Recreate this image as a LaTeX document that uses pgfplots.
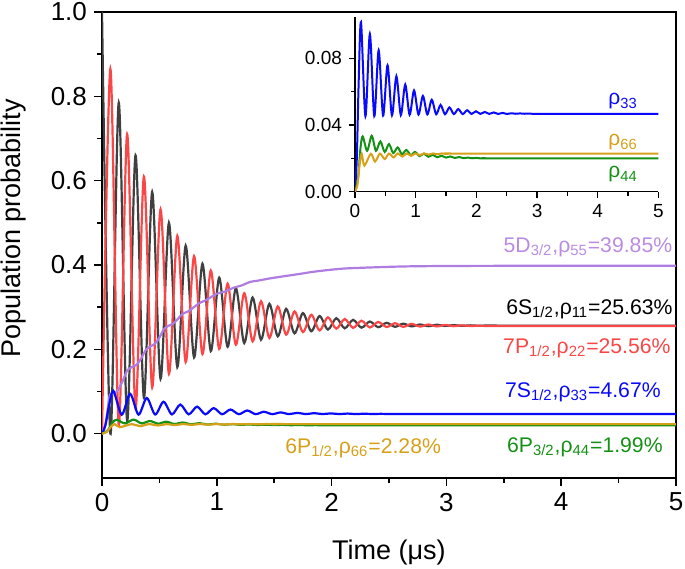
\documentclass[border=0pt]{standalone}
\usepackage{fontspec}
\setmainfont{Liberation Sans}
\usepackage{pgfplots}
\pgfplotsset{compat=1.18}
\usetikzlibrary{calc}

\definecolor{cblack}{RGB}{64,64,64}
\definecolor{cred}{RGB}{250,70,70}
\definecolor{cblue}{RGB}{10,10,250}
\definecolor{cgreen}{RGB}{20,145,20}
\definecolor{corange}{RGB}{215,160,25}
\definecolor{cpurple}{RGB}{175,125,225}
\definecolor{tpurple}{RGB}{185,140,225}

\newcommand{\annfont}{\fontsize{10.6}{13}\selectfont}

\begin{document}
\begin{tikzpicture}
% ---------------- main axis ----------------
\begin{axis}[
  name=main, at={(0,0)}, anchor=south west,
  scale only axis, width=287pt, height=233pt,
  xmin=0, xmax=5, ymin=-0.105, ymax=1.0,
  xtick={0,1,2,3,4,5}, ytick={0,0.2,0.4,0.6,0.8,1.0},
  minor x tick num=1, minor y tick num=1,
  tick align=outside, xtick pos=bottom, ytick pos=left,
  major tick length=4pt, minor tick length=2.5pt,
  every tick/.style={line width=0.75pt, black},
  axis line style={line width=0.75pt},
  yticklabel style={/pgf/number format/.cd, fixed, fixed zerofill, precision=1},
  /pgf/number format/assume math mode=true,
  tick label style={font=\fontsize{13}{15}\selectfont},
  label style={font=\fontsize{13.5}{16}\selectfont},
  xlabel={Time (μs)}, ylabel={Population probability},
  xlabel style={at={(axis description cs:0.5,-0.159)}, anchor=center},
  ylabel style={at={(axis description cs:-0.155,0.536)}, anchor=center},
]
% rho11, 6S1/2
\addplot[cblack, line width=1.1pt, smooth] coordinates {
(0.000,1.000) (0.073,0.000) (0.146,0.785) (0.219,0.030) (0.292,0.660) (0.365,0.085)
(0.437,0.573) (0.510,0.130) (0.583,0.500) (0.656,0.158) (0.729,0.446) (0.802,0.181)
(0.875,0.403) (0.948,0.196) (1.021,0.370) (1.094,0.206) (1.166,0.345) (1.239,0.215)
(1.312,0.323) (1.385,0.223) (1.458,0.308) (1.531,0.231) (1.604,0.296) (1.677,0.238)
(1.750,0.286) (1.823,0.243) (1.895,0.279) (1.968,0.247) (2.041,0.274) (2.114,0.250)
(2.187,0.270) (2.260,0.2515) (2.333,0.266) (2.406,0.2525) (2.479,0.263) (2.552,0.2535)
(2.624,0.261) (2.697,0.2545) (2.770,0.259) (2.843,0.255) (2.916,0.2585) (2.989,0.2555)
(3.062,0.2575) (3.135,0.2558) (3.208,0.257) (3.281,0.256) (3.354,0.2565) (3.600,0.2563)
(5.000,0.2563)};
% rho22, 7P1/2
\addplot[cred, line width=1.1pt, smooth] coordinates {
(0.000,0.000) (0.073,0.865) (0.146,0.020) (0.219,0.710) (0.292,0.060) (0.365,0.610)
(0.437,0.110) (0.510,0.532) (0.583,0.142) (0.656,0.469) (0.729,0.170) (0.802,0.421)
(0.875,0.189) (0.948,0.387) (1.021,0.201) (1.094,0.356) (1.166,0.211) (1.239,0.333)
(1.312,0.219) (1.385,0.314) (1.458,0.227) (1.531,0.302) (1.604,0.235) (1.677,0.290)
(1.750,0.241) (1.823,0.282) (1.895,0.245) (1.968,0.276) (2.041,0.249) (2.114,0.272)
(2.187,0.251) (2.260,0.268) (2.333,0.252) (2.406,0.265) (2.479,0.253) (2.552,0.262)
(2.624,0.2535) (2.697,0.2605) (2.770,0.254) (2.843,0.259) (2.916,0.2545) (2.989,0.258)
(3.062,0.255) (3.135,0.257) (3.208,0.2553) (3.281,0.2562) (3.354,0.2555) (3.600,0.2556)
(5.000,0.2556)};
% rho55, 5D3/2
\addplot[cpurple, line width=1.1pt, smooth] coordinates {
(0,0) (0.035,0.03) (0.065,0.088) (0.09,0.095) (0.13,0.10) (0.18,0.125) (0.22,0.15)
(0.26,0.158) (0.30,0.163) (0.34,0.178) (0.38,0.198) (0.42,0.207) (0.46,0.213)
(0.50,0.228) (0.54,0.248) (0.58,0.256) (0.62,0.261) (0.66,0.272) (0.70,0.284)
(0.75,0.290) (0.80,0.300) (0.85,0.310) (0.90,0.316) (0.95,0.324) (1.00,0.332)
(1.07,0.337) (1.145,0.346) (1.22,0.352) (1.29,0.360) (1.36,0.363) (1.435,0.367)
(1.55,0.372) (1.725,0.379) (1.84,0.384) (2.00,0.389) (2.13,0.392) (2.42,0.395)
(2.71,0.397) (3.29,0.398) (5.00,0.3985)};
% rho33, 7S1/2
\addplot[cblue, line width=1.1pt, smooth] coordinates {
(0,0) (0.03,0.02) (0.06,0.065) (0.099,0.1016) (0.172,0.0452) (0.245,0.0946)
(0.318,0.0453) (0.39,0.0848) (0.463,0.0456) (0.536,0.0758) (0.609,0.0458) (0.682,0.0692)
(0.755,0.046) (0.828,0.0642) (0.9,0.0461) (0.973,0.0607) (1.046,0.0462) (1.119,0.0574)
(1.192,0.0463) (1.265,0.0551) (1.338,0.0464) (1.41,0.052) (1.483,0.0464) (1.556,0.0505)
(1.629,0.0465) (1.702,0.0495) (1.775,0.0465) (1.848,0.0488) (1.92,0.0466) (1.993,0.0482)
(2.066,0.0466) (2.139,0.0478) (2.212,0.0466) (2.285,0.0475) (2.358,0.0466) (2.43,0.0472)
(2.503,0.0466) (2.576,0.047) (2.649,0.0467) (2.72,0.0469) (2.795,0.0467) (2.868,0.0468)
(3.0,0.0467) (5,0.0467)};
% rho44, 6P3/2
\addplot[cgreen, line width=1.1pt, smooth] coordinates {
(0,0) (0.05,0.008) (0.09,0.026) (0.127,0.0331) (0.2,0.0245) (0.275,0.0335) (0.345,0.0245)
(0.418,0.0301) (0.49,0.0238) (0.56,0.0285) (0.63,0.0231) (0.703,0.0265) (0.775,0.0224)
(0.846,0.025) (0.92,0.0218) (0.99,0.0238) (1.063,0.0213) (1.135,0.0228) (1.208,0.0209)
(1.28,0.0221) (1.353,0.0206) (1.425,0.0215) (1.5,0.0204) (1.57,0.0211) (1.643,0.0202)
(1.715,0.0207) (1.79,0.0201) (1.86,0.0204) (1.93,0.02) (2.0,0.0202) (2.08,0.0199)
(2.15,0.0201) (2.3,0.0199) (5,0.0199)};
% rho66, 6P1/2
\addplot[corange, line width=1.1pt, smooth] coordinates {
(0,0) (0.04,0.004) (0.075,0.016) (0.11,0.0227) (0.155,0.0156) (0.26,0.0227) (0.33,0.018)
(0.41,0.0228) (0.49,0.0195) (0.56,0.0228) (0.635,0.0205) (0.705,0.0229) (0.78,0.021)
(0.85,0.0229) (0.925,0.0215) (0.995,0.0229) (1.07,0.0219) (1.14,0.0229) (1.215,0.0222)
(1.285,0.0229) (1.36,0.0224) (1.43,0.0229) (1.505,0.0226) (1.58,0.0229) (1.7,0.0228)
(5,0.0228)};

\begin{scope}[every node/.style={inner sep=0pt, font=\annfont}]
\node[anchor=base east, text=tpurple] at (axis cs:4.97,0.430) {5D\textsubscript{3/2},ρ\textsubscript{55}=39.85\%};
\node[anchor=base east, text=black] at (axis cs:4.973,0.2823) {6S\textsubscript{1/2},ρ\textsubscript{11}=25.63\%};
\node[anchor=base east, text=cred] at (axis cs:4.956,0.190) {7P\textsubscript{1/2},ρ\textsubscript{22}=25.56\%};
\node[anchor=base east, text=cblue] at (axis cs:4.87,0.086) {7S\textsubscript{1/2},ρ\textsubscript{33}=4.67\%};
\node[anchor=base east, text=cgreen] at (axis cs:4.887,-0.0444) {6P\textsubscript{3/2},ρ\textsubscript{44}=1.99\%};
\node[anchor=base west, text=corange] at (axis cs:1.594,-0.0467) {6P\textsubscript{1/2},ρ\textsubscript{66}=2.28\%};
\end{scope}
\end{axis}

% ---------------- inset ----------------
\begin{axis}[
  name=inset, at={($(main.south west)+(126.5pt,143.2pt)$)}, anchor=south west,
  scale only axis, width=151.7pt, height=87.5pt,
  xmin=0, xmax=5, ymin=0, ymax=0.105,
  axis x line=bottom, axis y line=left,
  axis line style={-, line width=0.6pt},
  every outer x axis line/.append style={-},
  every outer y axis line/.append style={-},
  xtick={0,1,2,3,4,5}, ytick={0,0.04,0.08},
  minor x tick num=1, minor y tick num=1,
  tick align=outside,
  major tick length=3pt, minor tick length=2pt,
  every tick/.style={line width=0.6pt, black},
  scaled y ticks=false,
  yticklabel style={/pgf/number format/.cd, fixed, fixed zerofill, precision=2},
  /pgf/number format/assume math mode=true,
  tick label style={font=\fontsize{9.5}{11}\selectfont},
]
\addplot[cblue, line width=1pt, smooth] coordinates {
(0,0) (0.03,0.02) (0.06,0.065) (0.099,0.1016) (0.172,0.0452) (0.245,0.0946)
(0.318,0.0453) (0.39,0.0848) (0.463,0.0456) (0.536,0.0758) (0.609,0.0458) (0.682,0.0692)
(0.755,0.046) (0.828,0.0642) (0.9,0.0461) (0.973,0.0607) (1.046,0.0462) (1.119,0.0574)
(1.192,0.0463) (1.265,0.0551) (1.338,0.0464) (1.41,0.052) (1.483,0.0464) (1.556,0.0505)
(1.629,0.0465) (1.702,0.0495) (1.775,0.0465) (1.848,0.0488) (1.92,0.0466) (1.993,0.0482)
(2.066,0.0466) (2.139,0.0478) (2.212,0.0466) (2.285,0.0475) (2.358,0.0466) (2.43,0.0472)
(2.503,0.0466) (2.576,0.047) (2.649,0.0467) (2.72,0.0469) (2.795,0.0467) (2.868,0.0468)
(3.0,0.0467) (5,0.0467)};
\addplot[cgreen, line width=1pt, smooth] coordinates {
(0,0) (0.05,0.008) (0.09,0.026) (0.127,0.0331) (0.2,0.0245) (0.275,0.0335) (0.345,0.0245)
(0.418,0.0301) (0.49,0.0238) (0.56,0.0285) (0.63,0.0231) (0.703,0.0265) (0.775,0.0224)
(0.846,0.025) (0.92,0.0218) (0.99,0.0238) (1.063,0.0213) (1.135,0.0228) (1.208,0.0209)
(1.28,0.0221) (1.353,0.0206) (1.425,0.0215) (1.5,0.0204) (1.57,0.0211) (1.643,0.0202)
(1.715,0.0207) (1.79,0.0201) (1.86,0.0204) (1.93,0.02) (2.0,0.0202) (2.08,0.0199)
(2.15,0.0201) (2.3,0.0199) (5,0.0199)};
\addplot[corange, line width=1pt, smooth] coordinates {
(0,0) (0.04,0.004) (0.075,0.016) (0.11,0.0227) (0.155,0.0156) (0.26,0.0227) (0.33,0.018)
(0.41,0.0228) (0.49,0.0195) (0.56,0.0228) (0.635,0.0205) (0.705,0.0229) (0.78,0.021)
(0.85,0.0229) (0.925,0.0215) (0.995,0.0229) (1.07,0.0219) (1.14,0.0229) (1.215,0.0222)
(1.285,0.0229) (1.36,0.0224) (1.43,0.0229) (1.505,0.0226) (1.58,0.0229) (1.7,0.0228)
(5,0.0228)};
\begin{scope}[every node/.style={inner sep=0pt, anchor=base west, font=\fontsize{10.5}{12}\selectfont}]
\node[text=cblue] at (axis cs:4.17,0.052) {ρ\textsubscript{33}};
\node[text=corange] at (axis cs:4.17,0.0275) {ρ\textsubscript{66}};
\node[text=cgreen] at (axis cs:4.17,0.0082) {ρ\textsubscript{44}};
\end{scope}
\end{axis}

\pgfresetboundingbox
\path ($(main.south west)+(-51pt,-45pt)$) rectangle ($(main.north east)+(4.5pt,6pt)$);
\end{tikzpicture}
\end{document}
